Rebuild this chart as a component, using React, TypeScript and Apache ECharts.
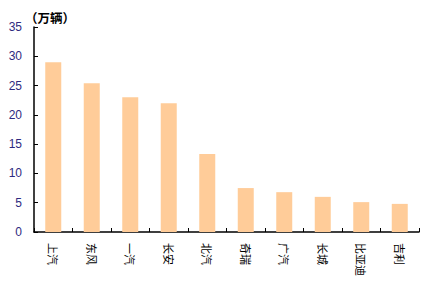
import React, { useEffect, useRef } from "react";
import * as echarts from "echarts";

const categories = ["上汽", "东风", "一汽", "长安", "北汽", "奇瑞", "广汽", "长城", "比亚迪", "吉利"];
const values = [29.0, 25.4, 23.0, 22.0, 13.3, 7.5, 6.8, 6.0, 5.1, 4.8];
const unitLabel = "（万辆）";

export default function App() {
  const ref = useRef<HTMLDivElement>(null);
  useEffect(() => {
    if (!ref.current) return;
    const chart = echarts.init(ref.current, null, { renderer: "svg" });
    chart.setOption({
      animation: false,
      backgroundColor: "#ffffff",
      title: {
        text: unitLabel,
        left: 20,
        top: 6,
        textStyle: { fontSize: 12.5, fontWeight: "bold", color: "#000", fontFamily: "Noto Sans CJK SC" },
      },
      grid: { left: 34, right: 4, top: 27, bottom: 65, containLabel: false },
      xAxis: {
        type: "category",
        data: categories,
        axisLine: { lineStyle: { color: "#000", width: 1.5 } },
        axisTick: { show: true, inside: true, length: 4, lineStyle: { color: "#000" } },
        axisLabel: {
          rotate: -90,
          margin: 11,
          fontSize: 11,
          color: "#000",
          fontFamily: "Noto Sans CJK SC",
          interval: 0,
        },
        splitLine: { show: false },
      },
      yAxis: {
        type: "value",
        min: 0,
        max: 35,
        interval: 5,
        axisLine: { show: true, lineStyle: { color: "#000", width: 1.5 } },
        axisTick: { show: true, inside: true, length: 4, lineStyle: { color: "#000" } },
        axisLabel: { fontSize: 12, color: "#2e2a80", fontFamily: "Arial, Liberation Sans", margin: 12 },
        splitLine: { show: false },
      },
      series: [
        {
          type: "bar",
          data: values,
          barWidth: 16,
          itemStyle: { color: "#ffcc99" },
        },
      ],
    });
    return () => chart.dispose();
  }, []);
  return <div ref={ref} style={{ position: "fixed", left: 0, top: 0, width: 423, height: 297 }} />;
}
